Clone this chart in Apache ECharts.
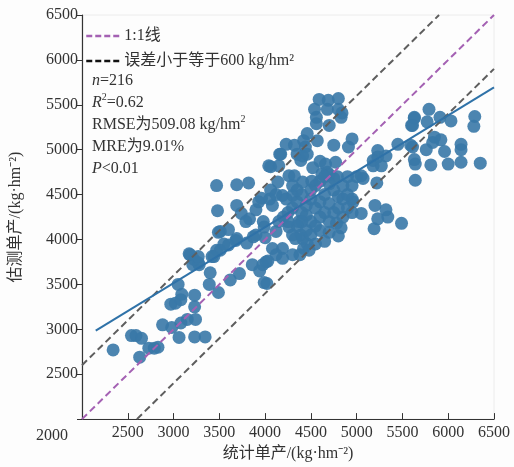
<!DOCTYPE html>
<html>
<head>
<meta charset="utf-8">
<script src="https://cdn.jsdelivr.net/npm/echarts@6/dist/echarts.min.js"></script>
<style>
  html, body { margin: 0; padding: 0; background: #fdfdfd; }
  #chart { width: 514px; height: 467px; }
</style>
</head>
<body>
<div id="chart"></div>
<script>
// 统计单产 (x) 与 估测单产 (y)
var statYield = [
    2340, 2540, 2590, 2650, 2630, 2730, 2790, 2830, 2880, 2980, 3060, 3080, 3150, 3240, 3230, 3345,
    3230, 3230, 2970, 3020, 3080, 3090, 3050, 3400, 3390, 3490, 3620, 3720, 3860, 3990, 3975, 4030,
    3210, 3280, 3180, 3270, 3220, 3440, 3510, 3470, 3690, 3820, 3480, 3690, 3740, 3830, 3790, 3980,
    3900, 4050, 4080, 3930, 4190, 4300, 4040, 4140, 4170, 4150, 4260, 4390, 4350, 4410, 3600, 3510,
    3690, 3870, 3800, 4000, 3470, 3420, 3270, 3170, 3550, 3600, 4080, 4190, 4120, 4190, 4300, 4010,
    4260, 4370, 4390, 4300, 4120, 4420, 4450, 3490, 3680, 3900, 3990, 4060, 4120, 4230, 3960, 4590,
    4690, 4800, 4680, 4800, 4540, 4560, 4560, 4700, 4830, 4840, 4460, 4420, 4440, 4570, 4320, 4410,
    4460, 4750, 4910, 4950, 5230, 5230, 5320, 5450, 5590, 5630, 5600, 4660, 4770, 5180, 5180, 5270,
    4320, 4510, 4620, 4680, 4750, 4700, 4790, 4230, 4060, 4160, 4520, 4600, 5790, 5630, 5610, 5770,
    5910, 6030, 6290, 6280, 5850, 5830, 5920, 5610, 5760, 5960, 6140, 6140, 5630, 5640, 5810, 6000,
    6140, 6350, 5640, 5070, 5220, 4950, 4960, 5050, 5200, 5320, 5340, 5230, 5490, 5190, 4800, 4410,
    4460, 5000, 5050, 4300, 4350, 4400, 4450, 4500, 4550, 4600, 4650, 4700, 4750, 4800, 4850, 4900,
    4500, 4550, 4600, 4650, 4700, 4750, 4800, 4850, 4400, 4350, 4450, 4500, 4550, 4600, 4650, 4700,
    4400, 4350, 4300, 4250, 4200, 4150, 4250, 4500, 4600, 4700, 4650, 4550, 4480, 4380, 4850, 4900,
    4950, 4780, 4830, 4900, 4950, 4330, 4020, 3940
];
var estYield = [
    2770, 2930, 2930, 2900, 2690, 2790, 2790, 2800, 3050, 3020, 2910, 3070, 3110, 3110, 2915, 2915,
    3250, 3380, 3280, 3290, 3330, 3390, 3500, 3630, 3500, 3410, 3550, 3620, 3720, 3520, 3720, 3760,
    3720, 3720, 3830, 3740, 3780, 3810, 3880, 4600, 4610, 4630, 4320, 4380, 4290, 4230, 4200, 4200,
    4330, 4450, 4380, 4420, 4490, 4490, 4820, 4640, 4950, 4820, 4710, 4880, 4950, 4640, 4110, 4090,
    4010, 4030, 3960, 4020, 3880, 3810, 3810, 3840, 3950, 3940, 3900, 3900, 3830, 3790, 3830, 3750,
    4140, 4200, 4050, 4050, 4090, 3900, 4270, 4080, 3990, 4050, 4140, 4550, 4500, 4450, 4460, 5560,
    5550, 5570, 5450, 5450, 5450, 5360, 5290, 5270, 5360, 5410, 5180, 5100, 5030, 5100, 5050, 4930,
    4950, 5050, 5030, 5120, 4990, 4920, 4930, 5060, 5050, 5360, 5270, 4840, 4860, 4820, 4880, 4820,
    4710, 4650, 4730, 4750, 4680, 4720, 4700, 5060, 4810, 4950, 4800, 4870, 5450, 5350, 5270, 5310,
    5360, 5320, 5370, 5260, 5140, 5080, 5110, 5030, 5000, 4980, 5060, 5000, 4890, 4840, 4830, 4840,
    4860, 4850, 4660, 4680, 4630, 4450, 4420, 4290, 4380, 4330, 4250, 4230, 4180, 4120, 4040, 4010,
    3950, 4700, 4710, 4350, 4420, 4300, 4380, 4450, 4350, 4420, 4500, 4400, 4550, 4480, 4600, 4700,
    4200, 4150, 4250, 4300, 4200, 4300, 4350, 4250, 4200, 4150, 4100, 4550, 4600, 4650, 4700, 4620,
    4500, 4550, 4600, 4300, 4250, 4200, 4200, 4050, 4100, 4080, 3980, 3950, 3880, 3830, 4450, 4500,
    4600, 4180, 4130, 4350, 4300, 4010, 3510, 3650
];

// 回归线 与 参考线
var regX = [2150, 6500];
var regY = [2985, 5695];
var oneToOne = [[2000, 2000], [6500, 6500]];
var upperBand = [[2000, 2600], [5900, 6500]];
var lowerBand = [[2600, 2000], [6500, 5900]];

var serif = '"Liberation Serif", "Noto Sans CJK SC", serif';

var points = [];
for (var i = 0; i < statYield.length; i++) {
    points.push([statYield[i], estYield[i]]);
}
var regLine = [[regX[0], regY[0]], [regX[1], regY[1]]];

var myChart = echarts.init(document.getElementById('chart'));

var option = {
    backgroundColor: '#fdfdfd',
    animation: false,
    grid: {
        left: 77, right: 20, top: 15, bottom: 45,
        show: true, borderColor: '#ececec', borderWidth: 1
    },
    legend: {
        left: 80, top: 23, orient: 'vertical',
        itemWidth: 36, itemHeight: 10, itemGap: 9,
        textStyle: { fontFamily: serif, fontSize: 16, color: '#333', padding: [0, 0, 0, -3] },
        data: [
            {
                name: '1:1线',
                itemStyle: { opacity: 0, borderWidth: 0 },
                lineStyle: { color: '#a461b3', width: 2.5, type: [6, 3] }
            },
            {
                name: '误差小于等于600 kg/hm²',
                itemStyle: { opacity: 0, borderWidth: 0 },
                lineStyle: { color: '#111', width: 2.5, type: [6, 3] }
            }
        ]
    },
    xAxis: {
        type: 'value', min: 2000, max: 6500, interval: 500,
        splitLine: { show: false },
        axisLine: { lineStyle: { color: '#333', width: 1.2 } },
        axisTick: { inside: true, length: 6, lineStyle: { color: '#333' } },
        axisLabel: {
            fontFamily: serif, fontSize: 16, color: '#333', margin: 6,
            formatter: function (v) { return v === 2000 ? '' : v; }
        },
        name: '统计单产/(kg·hm⁻²)', nameLocation: 'middle', nameGap: 24,
        nameTextStyle: { fontFamily: serif, fontSize: 16, color: '#333' }
    },
    yAxis: {
        type: 'value', min: 2000, max: 6500, interval: 500,
        splitLine: { show: false },
        axisLine: { show: true, lineStyle: { color: '#333', width: 1.2 } },
        axisTick: { show: true, length: 5, lineStyle: { color: '#333' } },
        axisLabel: {
            fontFamily: serif, fontSize: 16, color: '#333', margin: 4,
            formatter: function (v) { return v === 2000 ? '' : v; }
        },
        name: '估测单产/(kg·hm⁻²)', nameLocation: 'middle', nameGap: 58,
        nameTextStyle: { fontFamily: serif, fontSize: 16, color: '#333' }
    },
    graphic: [
        {
            type: 'text', left: 36, top: 428,
            style: { text: '2000', font: '16px ' + serif, fill: '#333' }
        },
        {
            type: 'text', left: 92, top: 70,
            style: {
                text: '{i|n}=216\n{i|R}{s|2}=0.62\nRMSE为509.08 kg/hm{s|2}\nMRE为9.01%\n{i|P}<0.01',
                font: '16px ' + serif, fill: '#333', lineHeight: 22,
                rich: {
                    i: { fontStyle: 'italic', fontFamily: serif, fontSize: 16, lineHeight: 22 },
                    s: { fontFamily: serif, fontSize: 10, verticalAlign: 'top', lineHeight: 22 }
                }
            }
        }
    ],
    series: [
        {
            name: '散点', type: 'scatter', data: points, symbolSize: 13, z: 2,
            itemStyle: { color: '#3878a7', opacity: 0.9 }
        },
        {
            name: '1:1线', type: 'line', data: oneToOne, symbol: 'none', z: 3,
            lineStyle: { color: '#a461b3', width: 2, type: [7, 4] },
            itemStyle: { color: '#a461b3' }
        },
        {
            name: '误差小于等于600 kg/hm²', type: 'line', data: upperBand, symbol: 'none', z: 3,
            lineStyle: { color: '#5e5e5e', width: 2, type: [7, 4] },
            itemStyle: { color: '#111' }
        },
        {
            name: '误差小于等于600 kg/hm²', type: 'line', data: lowerBand, symbol: 'none', z: 3,
            lineStyle: { color: '#5e5e5e', width: 2, type: [7, 4] },
            itemStyle: { color: '#111' }
        },
        {
            name: '回归线', type: 'line', data: regLine, symbol: 'none', z: 4,
            lineStyle: { color: '#2f72a8', width: 2 }
        }
    ]
};

myChart.setOption(option);
</script>
</body>
</html>
